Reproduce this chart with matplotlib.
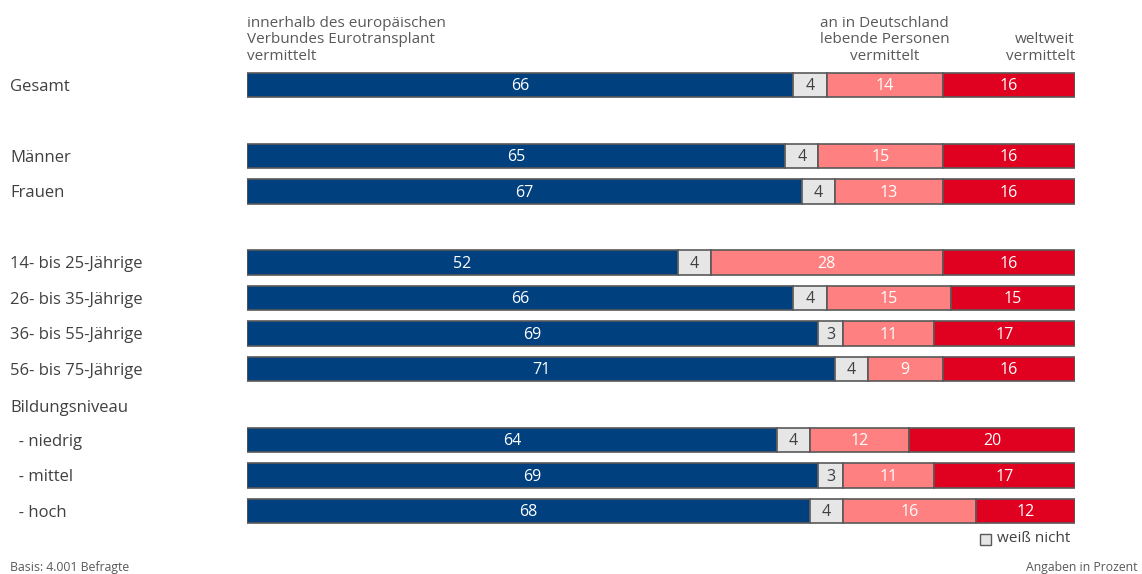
import matplotlib.pyplot as plt
from matplotlib.patches import Rectangle

plt.rcParams['font.family'] = ['Open Sans', 'DejaVu Sans']

# data
labels = ['Gesamt', 'Männer', 'Frauen', '14- bis 25-Jährige', '26- bis 35-Jährige',
          '36- bis 55-Jährige', '56- bis 75-Jährige', '  - niedrig', '  - mittel', '  - hoch']
eurotransplant = [66, 65, 67, 52, 66, 69, 71, 64, 69, 68]
weiss_nicht = [4, 4, 4, 4, 4, 3, 4, 4, 3, 4]
deutschland = [14, 15, 13, 28, 15, 11, 9, 12, 11, 16]
weltweit = [16, 16, 16, 16, 15, 17, 16, 20, 17, 12]

# layout: row slots (gaps between groups)
slots = [0, 2, 3, 5, 6, 7, 8, 10, 11, 12]
group_label = 'Bildungsniveau'
group_slot = 9

colors = ['#00407f', '#e6e6e6', '#ff8080', '#e0001f']
text_colors = ['white', '#404040', 'white', 'white']
edge = '#595959'
grey = '#595959'

W, H = 1142, 574
fig = plt.figure(figsize=(W / 100, H / 100), dpi=100)
x0, x1 = 247, 1075
ax = fig.add_axes([x0 / W, 0, (x1 - x0) / W, 1])
top_px, step = 85, 35.5
ax.set_ylim((H - top_px) / step, -top_px / step)
ax.set_xlim(0, 100)
ax.axis('off')

label_x = -100 * (x0 - 10) / (x1 - x0)

series = [eurotransplant, weiss_nicht, deutschland, weltweit]
for i, s in enumerate(slots):
    left = 0
    for k, vals in enumerate(series):
        v = vals[i]
        ax.barh(s, v, left=left, height=0.68, color=colors[k], edgecolor=edge, linewidth=1.2)
        ax.text(left + v / 2, s + 0.04, str(v), ha='center', va='center', fontsize=11.5,
                color=text_colors[k])
        left += v
    ax.text(label_x, s + 0.05, labels[i], ha='left', va='center', fontsize=12, color='#404040')

ax.text(label_x, group_slot + 0.1, group_label, ha='left', va='center',
        fontsize=12, color='#404040')

# headers
hy = -0.6
ax.text(0, hy, 'innerhalb des europäischen\nVerbundes Eurotransplant\nvermittelt', ha='left',
        va='bottom', fontsize=11, color=grey, linespacing=1.12)
ax.text(eurotransplant[0] + weiss_nicht[0] + deutschland[0] / 2, hy,
        'an in Deutschland\nlebende Personen\nvermittelt', ha='center', va='bottom',
        fontsize=11, color=grey, linespacing=1.12)
ax.text(100, hy, 'weltweit\nvermittelt', ha='right', va='bottom', fontsize=11,
        color=grey, linespacing=1.12)

# legend
fig.patches.append(Rectangle((980 / W, 1 - 545 / H), 11 / W, 11 / H, transform=fig.transFigure,
                             facecolor=colors[1], edgecolor=edge, linewidth=1))
fig.text(997 / W, 1 - 539 / H, 'weiß nicht', ha='left', va='center', fontsize=11, color='#404040')

fig.text(10 / W, 1 - 567 / H, 'Basis: 4.001 Befragte', ha='left', va='center', fontsize=8.8, color=grey)
fig.text(1137 / W, 1 - 567 / H, 'Angaben in Prozent', ha='right', va='center', fontsize=8.8, color=grey)

fig.savefig('out.png', dpi=100)
